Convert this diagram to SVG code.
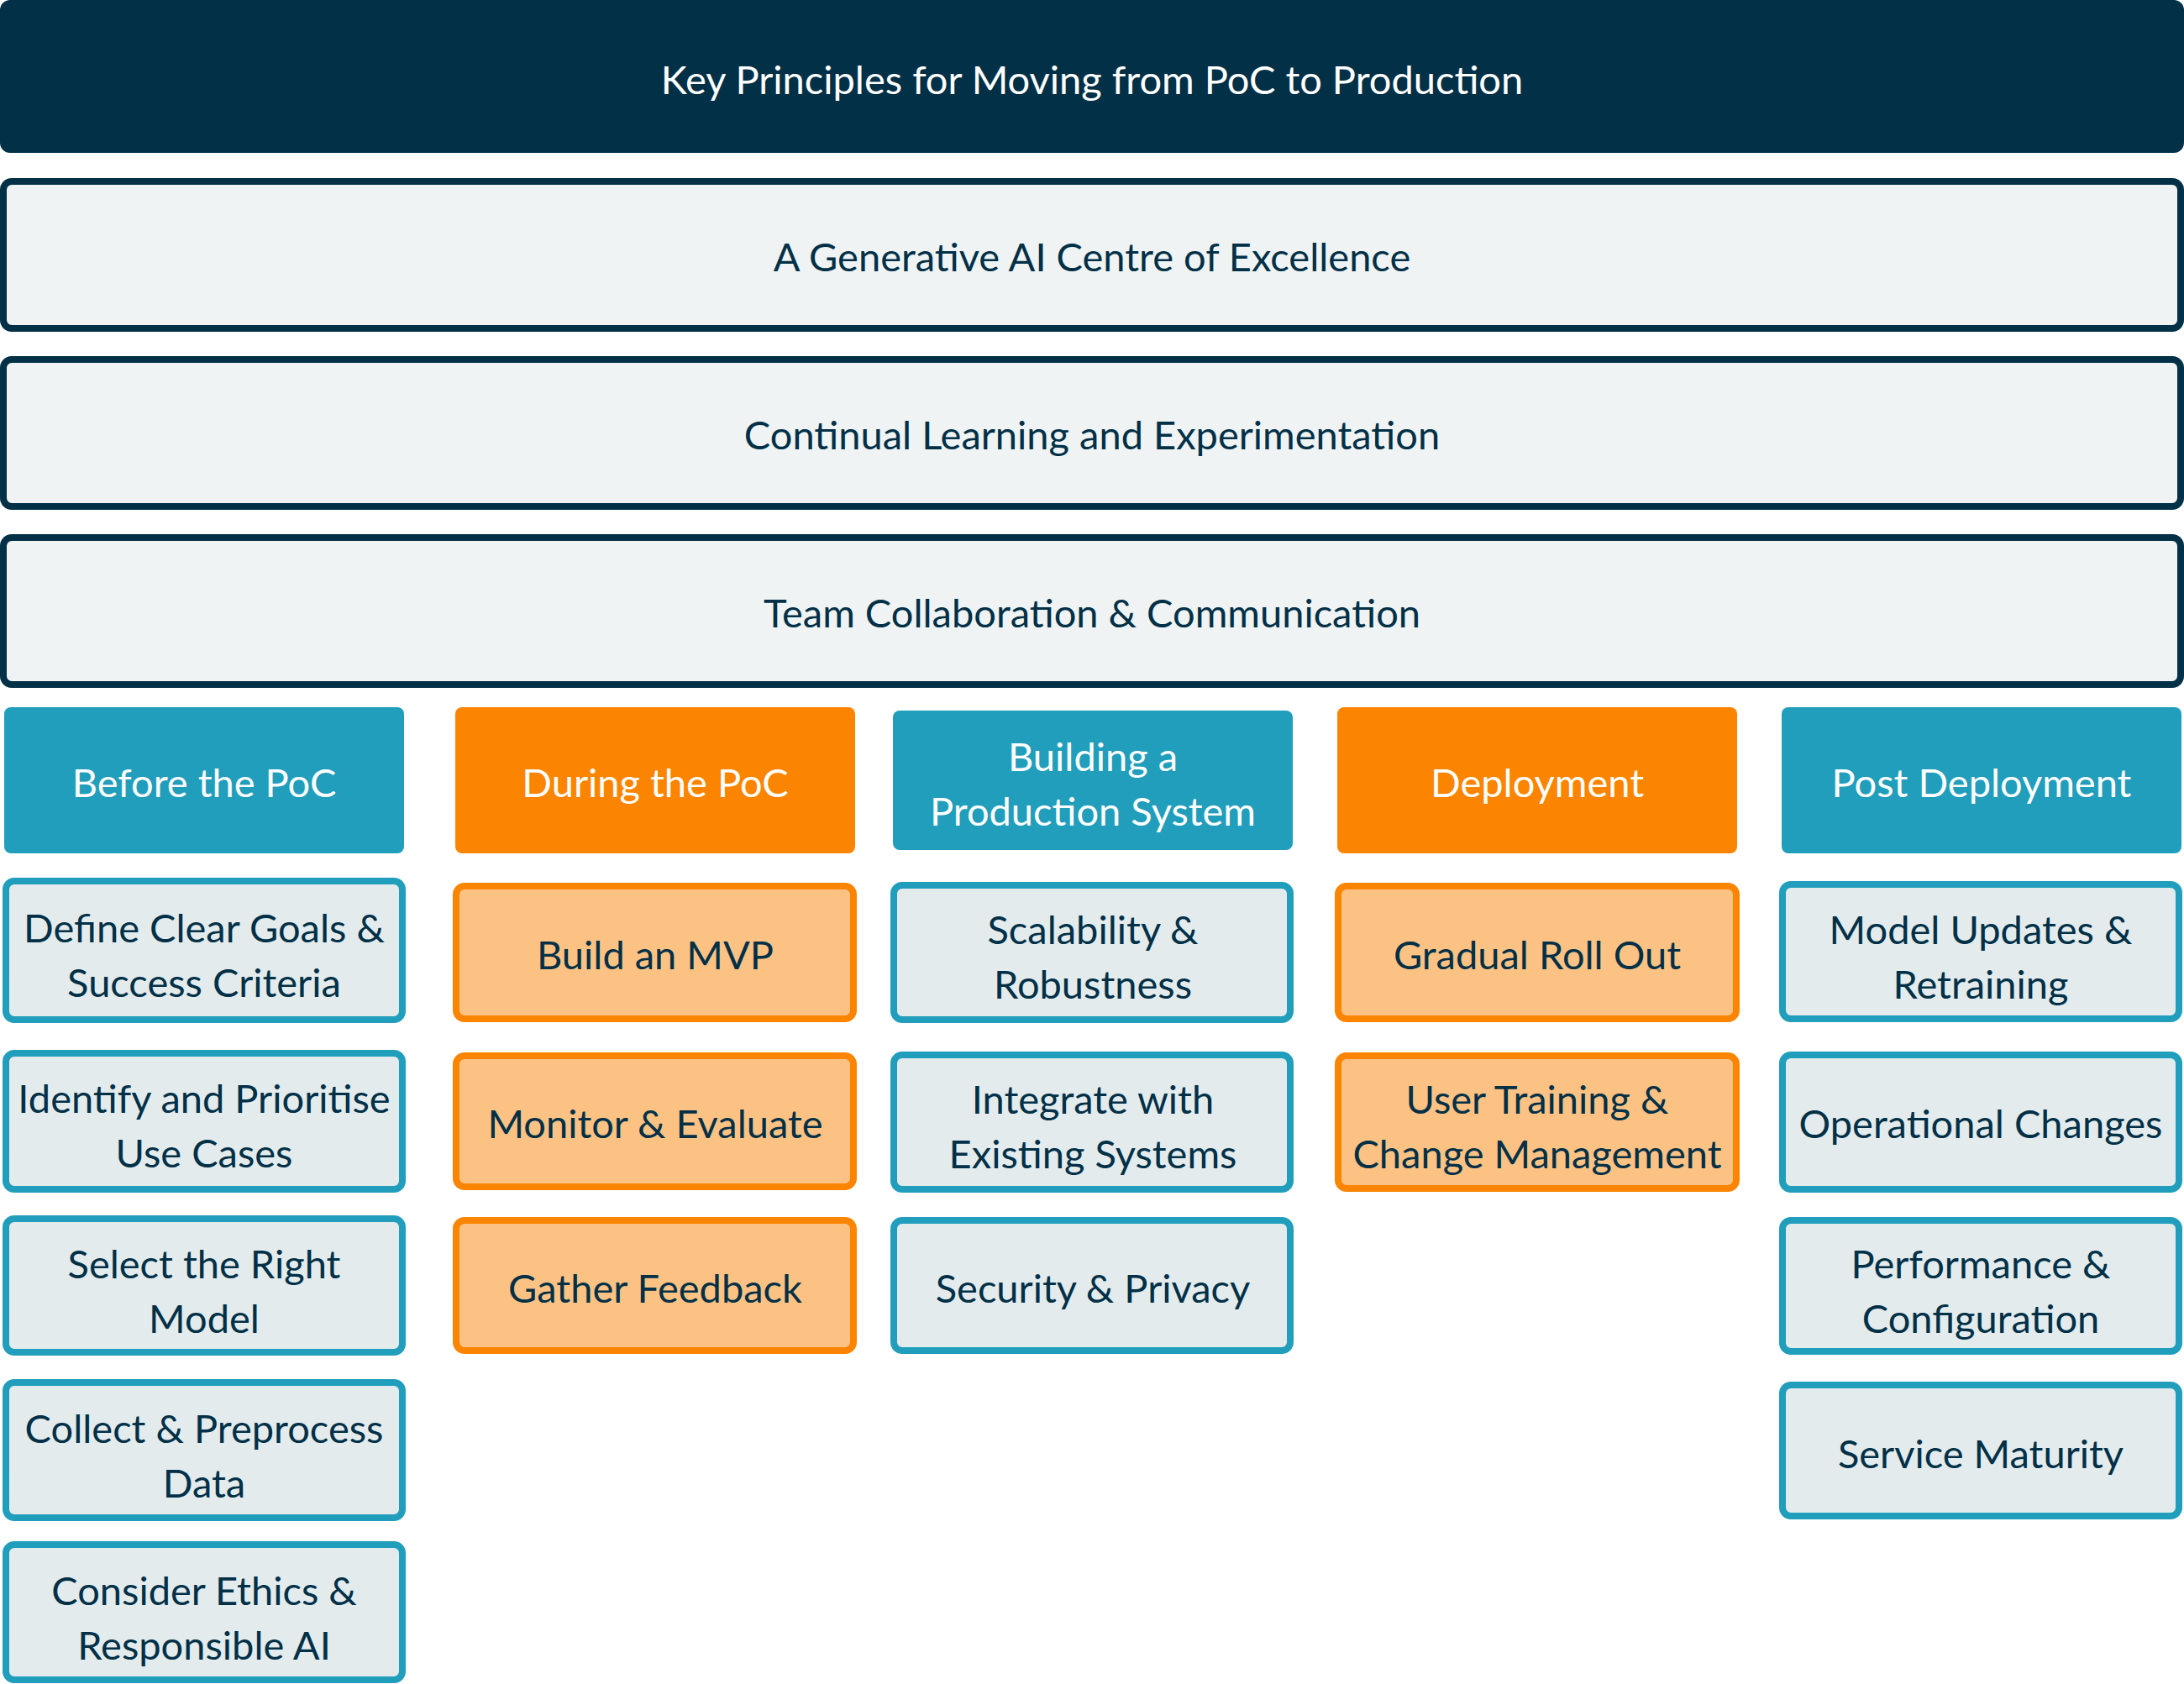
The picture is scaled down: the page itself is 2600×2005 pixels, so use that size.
<svg xmlns="http://www.w3.org/2000/svg" width="2600" height="2005" viewBox="0 0 2600 2005">
<style>
text{font-family:Lato,"Source Sans Pro","Open Sans",sans-serif;font-size:47px;text-anchor:middle;fill:#023047}
.w{fill:#ffffff}
.title{fill:#023047}
.bar{fill:#eff3f4;stroke:#023047;stroke-width:8}
.hb{fill:#219ebc}
.ho{fill:#fb8500}
.ib{fill:#e3ebed;stroke:#219ebc;stroke-width:8}
.io{fill:#fcc283;stroke:#fb8500;stroke-width:8}
</style>
<rect width="2600" height="2005" fill="#ffffff"/>
<g id="title"><rect class="title" x="0" y="0" width="2600" height="182" rx="12"/><text class="w" x="1300" y="112">Key Principles for Moving from PoC to Production</text></g>
<g id="bar-coe"><rect class="bar" x="4" y="216" width="2592" height="175" rx="10"/><text x="1300" y="323">A Generative AI Centre of Excellence</text></g>
<g id="bar-learning"><rect class="bar" x="4" y="428" width="2592" height="175" rx="10"/><text x="1300" y="535">Continual Learning and Experimentation</text></g>
<g id="bar-team"><rect class="bar" x="4" y="640" width="2592" height="175" rx="10"/><text x="1300" y="747">Team Collaboration &amp; Communication</text></g>

<g id="h-before"><rect class="hb" x="5" y="842" width="476" height="174" rx="8"/><text class="w" x="243" y="949">Before the PoC</text></g>
<g id="h-during"><rect class="ho" x="542" y="842" width="476" height="174" rx="8"/><text class="w" x="780" y="949">During the PoC</text></g>
<g id="h-building"><rect class="hb" x="1063" y="846" width="476" height="166" rx="8"/><text class="w" x="1301" y="918">Building a</text><text class="w" x="1301" y="983">Production System</text></g>
<g id="h-deploy"><rect class="ho" x="1592" y="842" width="476" height="174" rx="8"/><text class="w" x="1830" y="949">Deployment</text></g>
<g id="h-post"><rect class="hb" x="2121" y="842" width="476" height="174" rx="8"/><text class="w" x="2359" y="949">Post Deployment</text></g>

<g id="i-define"><rect class="ib" x="7" y="1049" width="472" height="165" rx="10"/><text x="243" y="1122">Define Clear Goals &amp;</text><text x="243" y="1187">Success Criteria</text></g>
<g id="i-identify"><rect class="ib" x="7" y="1254" width="472" height="162" rx="10"/><text x="243" y="1325">Identify and Prioritise</text><text x="243" y="1390">Use Cases</text></g>
<g id="i-select"><rect class="ib" x="7" y="1451" width="472" height="159" rx="10"/><text x="243" y="1522">Select the Right</text><text x="243" y="1587">Model</text></g>
<g id="i-collect"><rect class="ib" x="7" y="1646" width="472" height="161" rx="10"/><text x="243" y="1718">Collect &amp; Preprocess</text><text x="243" y="1783">Data</text></g>
<g id="i-ethics"><rect class="ib" x="7" y="1839" width="472" height="161" rx="10"/><text x="243" y="1911">Consider Ethics &amp;</text><text x="243" y="1976">Responsible AI</text></g>

<g id="i-mvp"><rect class="io" x="543" y="1055" width="473" height="158" rx="10"/><text x="780" y="1154">Build an MVP</text></g>
<g id="i-monitor"><rect class="io" x="543" y="1257" width="473" height="156" rx="10"/><text x="780" y="1355">Monitor &amp; Evaluate</text></g>
<g id="i-gather"><rect class="io" x="543" y="1453" width="473" height="155" rx="10"/><text x="780" y="1551">Gather Feedback</text></g>

<g id="i-scal"><rect class="ib" x="1064" y="1054" width="472" height="160" rx="10"/><text x="1301" y="1124">Scalability &amp;</text><text x="1301" y="1189">Robustness</text></g>
<g id="i-integrate"><rect class="ib" x="1064" y="1256" width="472" height="160" rx="10"/><text x="1301" y="1326">Integrate with</text><text x="1301" y="1391">Existing Systems</text></g>
<g id="i-security"><rect class="ib" x="1064" y="1453" width="472" height="155" rx="10"/><text x="1301" y="1551">Security &amp; Privacy</text></g>

<g id="i-gradual"><rect class="io" x="1593" y="1055" width="474" height="158" rx="10"/><text x="1830" y="1154">Gradual Roll Out</text></g>
<g id="i-training"><rect class="io" x="1593" y="1257" width="474" height="158" rx="10"/><text x="1830" y="1326">User Training &amp;</text><text x="1830" y="1391">Change Management</text></g>

<g id="i-model"><rect class="ib" x="2122" y="1053" width="472" height="160" rx="10"/><text x="2358" y="1124">Model Updates &amp;</text><text x="2358" y="1189">Retraining</text></g>
<g id="i-ops"><rect class="ib" x="2122" y="1256" width="472" height="160" rx="10"/><text x="2358" y="1355">Operational Changes</text></g>
<g id="i-perf"><rect class="ib" x="2122" y="1453" width="472" height="156" rx="10"/><text x="2358" y="1522">Performance &amp;</text><text x="2358" y="1587">Configuration</text></g>
<g id="i-service"><rect class="ib" x="2122" y="1649" width="472" height="156" rx="10"/><text x="2358" y="1748">Service Maturity</text></g>
<g id="connectors"></g>
</svg>
